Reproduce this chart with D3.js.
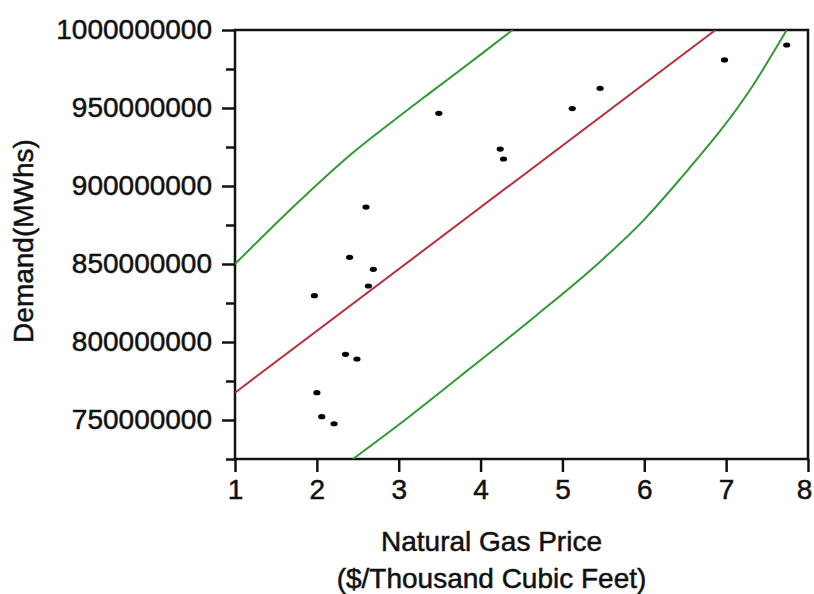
<!DOCTYPE html>
<html>
<head>
<meta charset="utf-8">
<script src="https://cdn.jsdelivr.net/npm/d3@7"></script>
<style>
  body { margin: 0; background: #fff; }
  text { font-family: "Liberation Sans", Arial, sans-serif; fill: #111; stroke: #111; stroke-width: 0.5px; }
</style>
</head>
<body>
<div id="chart"></div>
<script>
// observed points: natural gas price vs demand
let priceValues = [2.40, 2.69, 2.63, 1.97, 2.35, 2.49, 2.00, 2.06, 2.21, 2.60, 3.49, 4.24, 4.28, 5.12, 5.46, 6.98, 7.74];
let demandValues = [854300000, 846600000, 835900000, 829700000, 792100000, 789100000, 767500000, 752100000, 747600000,
    886500000, 946600000, 923700000, 917300000, 949600000, 962600000, 980800000, 990400000];

// fitted line
let fitX = [1, 6.87];
let fitY = [767500000, 1000000000];

// prediction bands
let upperX = [1.0, 1.80, 2.41, 2.94, 3.39, 3.92, 4.39];
let upperY = [850000000, 891000000, 920000000, 942000000, 960000000, 981000000, 1000000000];
let lowerX = [2.44, 3.10, 3.87, 4.68, 5.46, 5.99, 6.43, 7.29, 7.74];
let lowerY = [725000000, 751000000, 783000000, 817000000, 851500000, 878000000, 904000000, 961500000, 1000000000];

let xTicks = [1, 2, 3, 4, 5, 6, 7, 8];
let yTicks = [750000000, 800000000, 850000000, 900000000, 950000000, 1000000000];
let yMinorTicks = [725000000, 775000000, 825000000, 875000000, 925000000, 975000000];

let margin = {top: 30, right: 6, bottom: 135, left: 235};
let width = 814 - margin.left - margin.right;
let height = 594 - margin.top - margin.bottom;

let svg = d3.select("#chart").append("svg")
    .attr("width", 814)
    .attr("height", 594)
    .append("g")
    .attr("transform", "translate(" + margin.left + "," + margin.top + ")");

let x = d3.scaleLinear().domain([1, 8]).range([0, width]);
let y = d3.scaleLinear().domain([725000000, 1000000000]).range([height, 0]);

svg.append("clipPath").attr("id", "clip")
    .append("rect").attr("width", width).attr("height", height);

// frame
svg.append("rect")
    .attr("width", width)
    .attr("height", height)
    .attr("fill", "none")
    .attr("stroke", "#111")
    .attr("stroke-width", 2.5);

// axes
let xAxis = svg.append("g")
    .attr("transform", "translate(0," + height + ")")
    .call(d3.axisBottom(x).tickValues(xTicks).tickSize(13).tickPadding(7).tickFormat(d3.format("d")));

let yAxis = svg.append("g")
    .call(d3.axisLeft(y).tickValues(yTicks).tickSize(13).tickPadding(10).tickFormat(d3.format("d")));

let yMinor = svg.append("g")
    .call(d3.axisLeft(y).tickValues(yMinorTicks).tickSize(9).tickFormat(""));

[xAxis, yAxis, yMinor].forEach(g => {
    g.select(".domain").remove();
    g.selectAll("line").attr("stroke", "#111").attr("stroke-width", 2.5);
    g.selectAll("text").attr("font-size", 28).attr("fill", "#111")
        .attr("font-family", "'Liberation Sans', Arial, sans-serif");
});

// keep the last x label inside the page
xAxis.selectAll("text").filter(d => d === 8).attr("dx", -4);

let plot = svg.append("g").attr("clip-path", "url(#clip)");

let line = d3.line()
    .x(d => x(d[0]))
    .y(d => y(d[1]))
    .curve(d3.curveMonotoneX);

plot.append("path")
    .datum(upperX.map((v, i) => [v, upperY[i]]))
    .attr("d", line)
    .attr("fill", "none")
    .attr("stroke", "#2f9a36")
    .attr("stroke-width", 2);

plot.append("path")
    .datum(lowerX.map((v, i) => [v, lowerY[i]]))
    .attr("d", line)
    .attr("fill", "none")
    .attr("stroke", "#2f9a36")
    .attr("stroke-width", 2);

plot.append("path")
    .datum(fitX.map((v, i) => [v, fitY[i]]))
    .attr("d", line)
    .attr("fill", "none")
    .attr("stroke", "#b8303c")
    .attr("stroke-width", 2);

// points
svg.selectAll("ellipse.pt")
    .data(priceValues.map((v, i) => [v, demandValues[i]]))
    .enter()
    .append("ellipse")
    .attr("class", "pt")
    .attr("cx", d => x(d[0]))
    .attr("cy", d => y(d[1]))
    .attr("rx", 3.6)
    .attr("ry", 2.6)
    .attr("fill", "#000");

// axis titles
svg.append("text")
    .attr("x", width / 2 - 30)
    .attr("y", height + 92)
    .attr("text-anchor", "middle")
    .attr("font-size", 28)
    .text("Natural Gas Price");

svg.append("text")
    .attr("x", width / 2 - 30)
    .attr("y", height + 129)
    .attr("text-anchor", "middle")
    .attr("font-size", 28)
    .text("($/Thousand Cubic Feet)");

svg.append("text")
    .attr("transform", "translate(" + (-margin.left + 33) + "," + (241 - margin.top) + ") rotate(-90)")
    .attr("text-anchor", "middle")
    .attr("font-size", 28)
    .text("Demand(MWhs)");
</script>
</body>
</html>
